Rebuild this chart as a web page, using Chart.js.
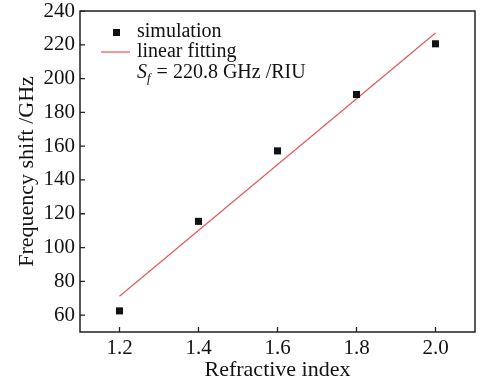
<!DOCTYPE html>
<html>
<head>
<meta charset="utf-8">
<script src="https://cdn.jsdelivr.net/npm/chart.js@4.4.0/dist/chart.umd.min.js"></script>
<style>
  html, body { margin: 0; padding: 0; background: #fff; }
  #wrap { width: 480px; height: 384px; }
</style>
</head>
<body>
<div id="wrap"><canvas id="grafico"></canvas></div>
<script>
// datos
const indices = [1.2, 1.4, 1.6, 1.8, 2.0];
const simulacion = [62.5, 115.5, 157.2, 190.6, 220.6];
const ajusteX = [1.2, 2.0];
const ajusteY = [71.2, 227.0];
const ticksX = [1.2, 1.4, 1.6, 1.8, 2.0];
const ticksY = [60, 80, 100, 120, 140, 160, 180, 200, 220, 240];

const fuente = '"Liberation Serif", "DejaVu Serif", serif';

// marco y marcas hacia adentro
const marco = {
    id: 'marco',
    afterDraw(chart) {
        const { ctx, chartArea: a, scales } = chart;
        ctx.save();
        ctx.strokeStyle = '#222';
        ctx.lineWidth = 1.5;
        ctx.strokeRect(a.left, a.top, a.right - a.left, a.bottom - a.top);
        ctx.lineWidth = 1.3;
        ctx.beginPath();
        scales.x.ticks.forEach(t => {
            const px = scales.x.getPixelForValue(t.value);
            ctx.moveTo(px, a.bottom);
            ctx.lineTo(px, a.bottom - 5);
        });
        scales.y.ticks.forEach(t => {
            const py = scales.y.getPixelForValue(t.value);
            ctx.moveTo(a.left, py);
            ctx.lineTo(a.left + 5, py);
        });
        ctx.stroke();

        // leyenda
        const lx = a.left + 57;
        ctx.fillStyle = '#111';
        ctx.fillRect(a.left + 33, a.top + 18, 7, 7);
        ctx.strokeStyle = '#e05a5a';
        ctx.lineWidth = 1.2;
        ctx.beginPath();
        ctx.moveTo(a.left + 21, a.top + 41);
        ctx.lineTo(a.left + 50, a.top + 41);
        ctx.stroke();
        ctx.font = '20px ' + fuente;
        ctx.textBaseline = 'middle';
        ctx.fillText('simulation', lx, a.top + 21);
        ctx.fillText('linear fitting', lx, a.top + 41);
        ctx.font = 'italic 20px ' + fuente;
        ctx.fillText('S', lx, a.top + 62);
        let w = ctx.measureText('S').width;
        ctx.font = 'italic 13px ' + fuente;
        ctx.fillText('f', lx + w, a.top + 68);
        w += ctx.measureText('f').width + 1;
        ctx.font = '20px ' + fuente;
        ctx.fillText(' = 220.8 GHz /RIU', lx + w, a.top + 62);
        ctx.restore();
    }
};

new Chart(document.getElementById('grafico'), {
    data: {
        datasets: [{
            type: 'scatter',
            label: 'simulation',
            data: indices.map((x, i) => ({ x: x, y: simulacion[i] })),
            pointStyle: 'rect',
            pointRadius: 5,
            pointBorderWidth: 0,
            backgroundColor: '#111',
            borderColor: '#111',
            order: 1
        }, {
            type: 'line',
            label: 'linear fitting',
            data: ajusteX.map((x, i) => ({ x: x, y: ajusteY[i] })),
            borderColor: '#e05a5a',
            borderWidth: 1.2,
            pointRadius: 0,
            fill: false,
            order: 2
        }]
    },
    options: {
        responsive: true,
        maintainAspectRatio: false,
        animation: false,
        layout: { padding: { top: 0, right: 1, left: 0, bottom: 0 } },
        plugins: {
            legend: { display: false },
            tooltip: { enabled: false }
        },
        scales: {
            x: {
                type: 'linear',
                min: 1.1,
                max: 2.1,
                afterBuildTicks: s => { s.ticks = ticksX.map(v => ({ value: v })); },
                afterFit: s => { s.height = 52; },
                grid: { display: true, drawOnChartArea: false, drawTicks: true, tickLength: 4, color: 'transparent' },
                border: { display: false },
                ticks: {
                    color: '#111',
                    padding: 0,
                    font: { family: fuente, size: 21 },
                    callback: v => v.toFixed(1)
                },
                title: {
                    display: true,
                    text: 'Refractive index',
                    color: '#111',
                    padding: { top: 0, bottom: 1 },
                    font: { family: fuente, size: 22 }
                }
            },
            y: {
                min: 50,
                max: 240,
                afterBuildTicks: s => { s.ticks = ticksY.map(v => ({ value: v })); },
                afterFit: s => { s.width = 80; },
                grid: { display: true, drawOnChartArea: false, drawTicks: true, tickLength: 5, color: 'transparent' },
                border: { display: false },
                ticks: {
                    color: '#111',
                    padding: 0,
                    font: { family: fuente, size: 21, lineHeight: 1.05 }
                },
                title: {
                    display: true,
                    text: 'Frequency shift /GHz',
                    color: '#111',
                    padding: { top: 14, bottom: 0 },
                    font: { family: fuente, size: 22 }
                }
            }
        }
    },
    plugins: [marco]
});
</script>
</body>
</html>
